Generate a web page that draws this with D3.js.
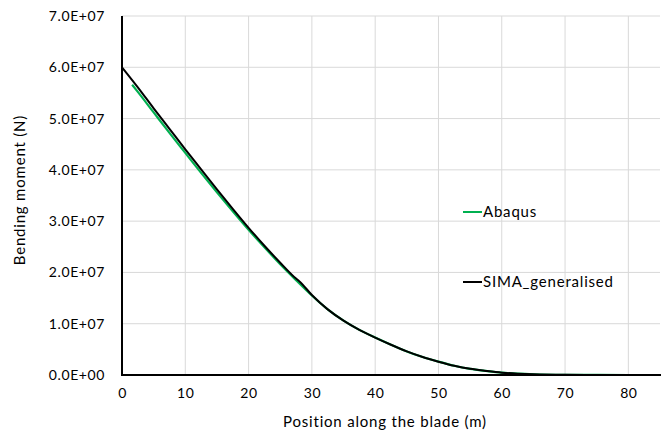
<!DOCTYPE html>
<html>
<head>
<meta charset="utf-8">
<script src="https://cdn.jsdelivr.net/npm/d3@7"></script>
<style>
  body { margin: 0; background: #fff; }
  text { font-family: Lato, "Noto Sans", sans-serif; fill: #000; }
  .grid line { stroke: #d9d9d9; stroke-width: 1; }
  .axis path, .axis line { display: none; }
  .axis text { font-size: 14px; letter-spacing: 0.6px; }
  .title { font-size: 15px; letter-spacing: 0.8px; }
</style>
</head>
<body>
<script>
// Position along the blade (m) and bending moment (N)
let simaX = [0, 2.5, 5, 7.5, 10, 12.5, 15, 17.5, 20, 22.5, 25, 27.5, 28, 30, 32.5, 35,
  37.5, 40, 42.5, 45, 47.5, 50, 52.5, 55, 57.5, 60, 62.5, 65, 70, 75, 80, 85]
let simaY = [6.0e7, 5.61e7, 5.2e7, 4.8e7, 4.4e7, 4.01e7, 3.62e7, 3.24e7, 2.87e7, 2.52e7, 2.19e7, 1.88e7, 1.83e7, 1.56e7, 1.28e7, 1.06e7,
  0.88e7, 0.73e7, 0.59e7, 0.46e7, 0.35e7, 0.26e7, 0.18e7, 0.12e7, 0.08e7, 0.046e7, 0.026e7, 0.013e7, 0.003e7, 0.001e7, 0, 0]
let abaqusX = [1.6, 2.5, 5, 7.5, 10, 12.5, 15, 17.5, 20, 22.5, 25, 27.5, 30, 32.5, 35,
  37.5, 40, 42.5, 45, 47.5, 50, 52.5, 55, 57.5, 60, 62.5, 65, 70, 75, 80, 85]
let abaqusY = [5.66e7, 5.52e7, 5.12e7, 4.72e7, 4.33e7, 3.94e7, 3.56e7, 3.19e7, 2.83e7, 2.49e7, 2.16e7, 1.85e7, 1.55e7, 1.28e7, 1.06e7,
  0.88e7, 0.73e7, 0.59e7, 0.46e7, 0.35e7, 0.26e7, 0.18e7, 0.12e7, 0.08e7, 0.046e7, 0.026e7, 0.013e7, 0.003e7, 0.001e7, 0, 0]
let xTicks = [0, 10, 20, 30, 40, 50, 60, 70, 80]
let yTicks = [0, 1e7, 2e7, 3e7, 4e7, 5e7, 6e7, 7e7]
let seriesNames = ['Abaqus', 'SIMA_generalised']
let seriesColors = ['#00b050', '#000000']

function main () {
  let width = 661
  let height = 436
  let plot = {left: 122, right: 660, top: 16, bottom: 375}

  let svg = d3.select('body').append('svg')
    .attr('width', width)
    .attr('height', height)

  let x = d3.scaleLinear().domain([0, 85]).range([plot.left, plot.right])
  let y = d3.scaleLinear().domain([0, 7e7]).range([plot.bottom, plot.top])

  // gridlines
  let grid = svg.append('g').attr('class', 'grid')
  grid.selectAll('.vg').data(xTicks.filter(d => d > 0)).enter()
    .append('line')
    .attr('x1', d => x(d)).attr('x2', d => x(d))
    .attr('y1', plot.top).attr('y2', plot.bottom)
  grid.selectAll('.hg').data(yTicks.filter(d => d > 0)).enter()
    .append('line')
    .attr('x1', plot.left).attr('x2', plot.right)
    .attr('y1', d => y(d)).attr('y2', d => y(d))

  // axes
  let xAxisG = svg.append('g')
    .attr('class', 'axis')
    .attr('transform', `translate(0, ${plot.bottom})`)
    .call(d3.axisBottom(x).tickValues(xTicks).tickSize(0))
  xAxisG.selectAll('text').attr('y', 23).attr('dy', 0)
  svg.append('g')
    .attr('class', 'axis')
    .attr('transform', `translate(${plot.left}, 0)`)
    .call(d3.axisLeft(y).tickValues(yTicks).tickSize(0).tickPadding(17)
      .tickFormat(d => d.toExponential(1).toUpperCase().replace('E+', 'E+0')))

  // series
  let line = d3.line().x(d => x(d[0])).y(d => y(d[1])).curve(d3.curveMonotoneX)
  let abaqus = abaqusX.map((v, i) => [v, abaqusY[i]])
  let sima = simaX.map((v, i) => [v, simaY[i]])
  svg.append('path').datum(abaqus)
    .attr('fill', 'none').attr('stroke', seriesColors[0]).attr('stroke-width', 2.2)
    .attr('d', line)
  svg.append('path').datum(sima)
    .attr('fill', 'none').attr('stroke', seriesColors[1]).attr('stroke-width', 2)
    .attr('d', line)

  // axis lines
  svg.append('line')
    .attr('x1', plot.left).attr('x2', plot.left)
    .attr('y1', plot.top).attr('y2', plot.bottom + 1)
    .attr('stroke', '#000').attr('stroke-width', 2)
  svg.append('line')
    .attr('x1', plot.left - 1).attr('x2', width)
    .attr('y1', plot.bottom).attr('y2', plot.bottom)
    .attr('stroke', '#000').attr('stroke-width', 2)

  // axis titles
  svg.append('text')
    .attr('class', 'title')
    .attr('x', 385).attr('y', 427)
    .attr('text-anchor', 'middle')
    .text('Position along the blade (m)')
  svg.append('text')
    .attr('class', 'title')
    .attr('transform', `translate(25, 190) rotate(-90)`)
    .attr('text-anchor', 'middle')
    .text('Bending moment (N)')

  // legend
  let legendY = [212, 282]
  seriesNames.forEach((name, i) => {
    let g = svg.append('g').attr('transform', `translate(463, ${legendY[i]})`)
    g.append('line')
      .attr('x1', 0).attr('x2', 19).attr('y1', 0).attr('y2', 0)
      .attr('stroke', seriesColors[i]).attr('stroke-width', 2)
    g.append('text')
      .attr('class', 'title')
      .attr('x', 20).attr('y', 0).attr('dy', '0.35em')
      .text(name)
  })
}

main()
</script>
</body>
</html>
